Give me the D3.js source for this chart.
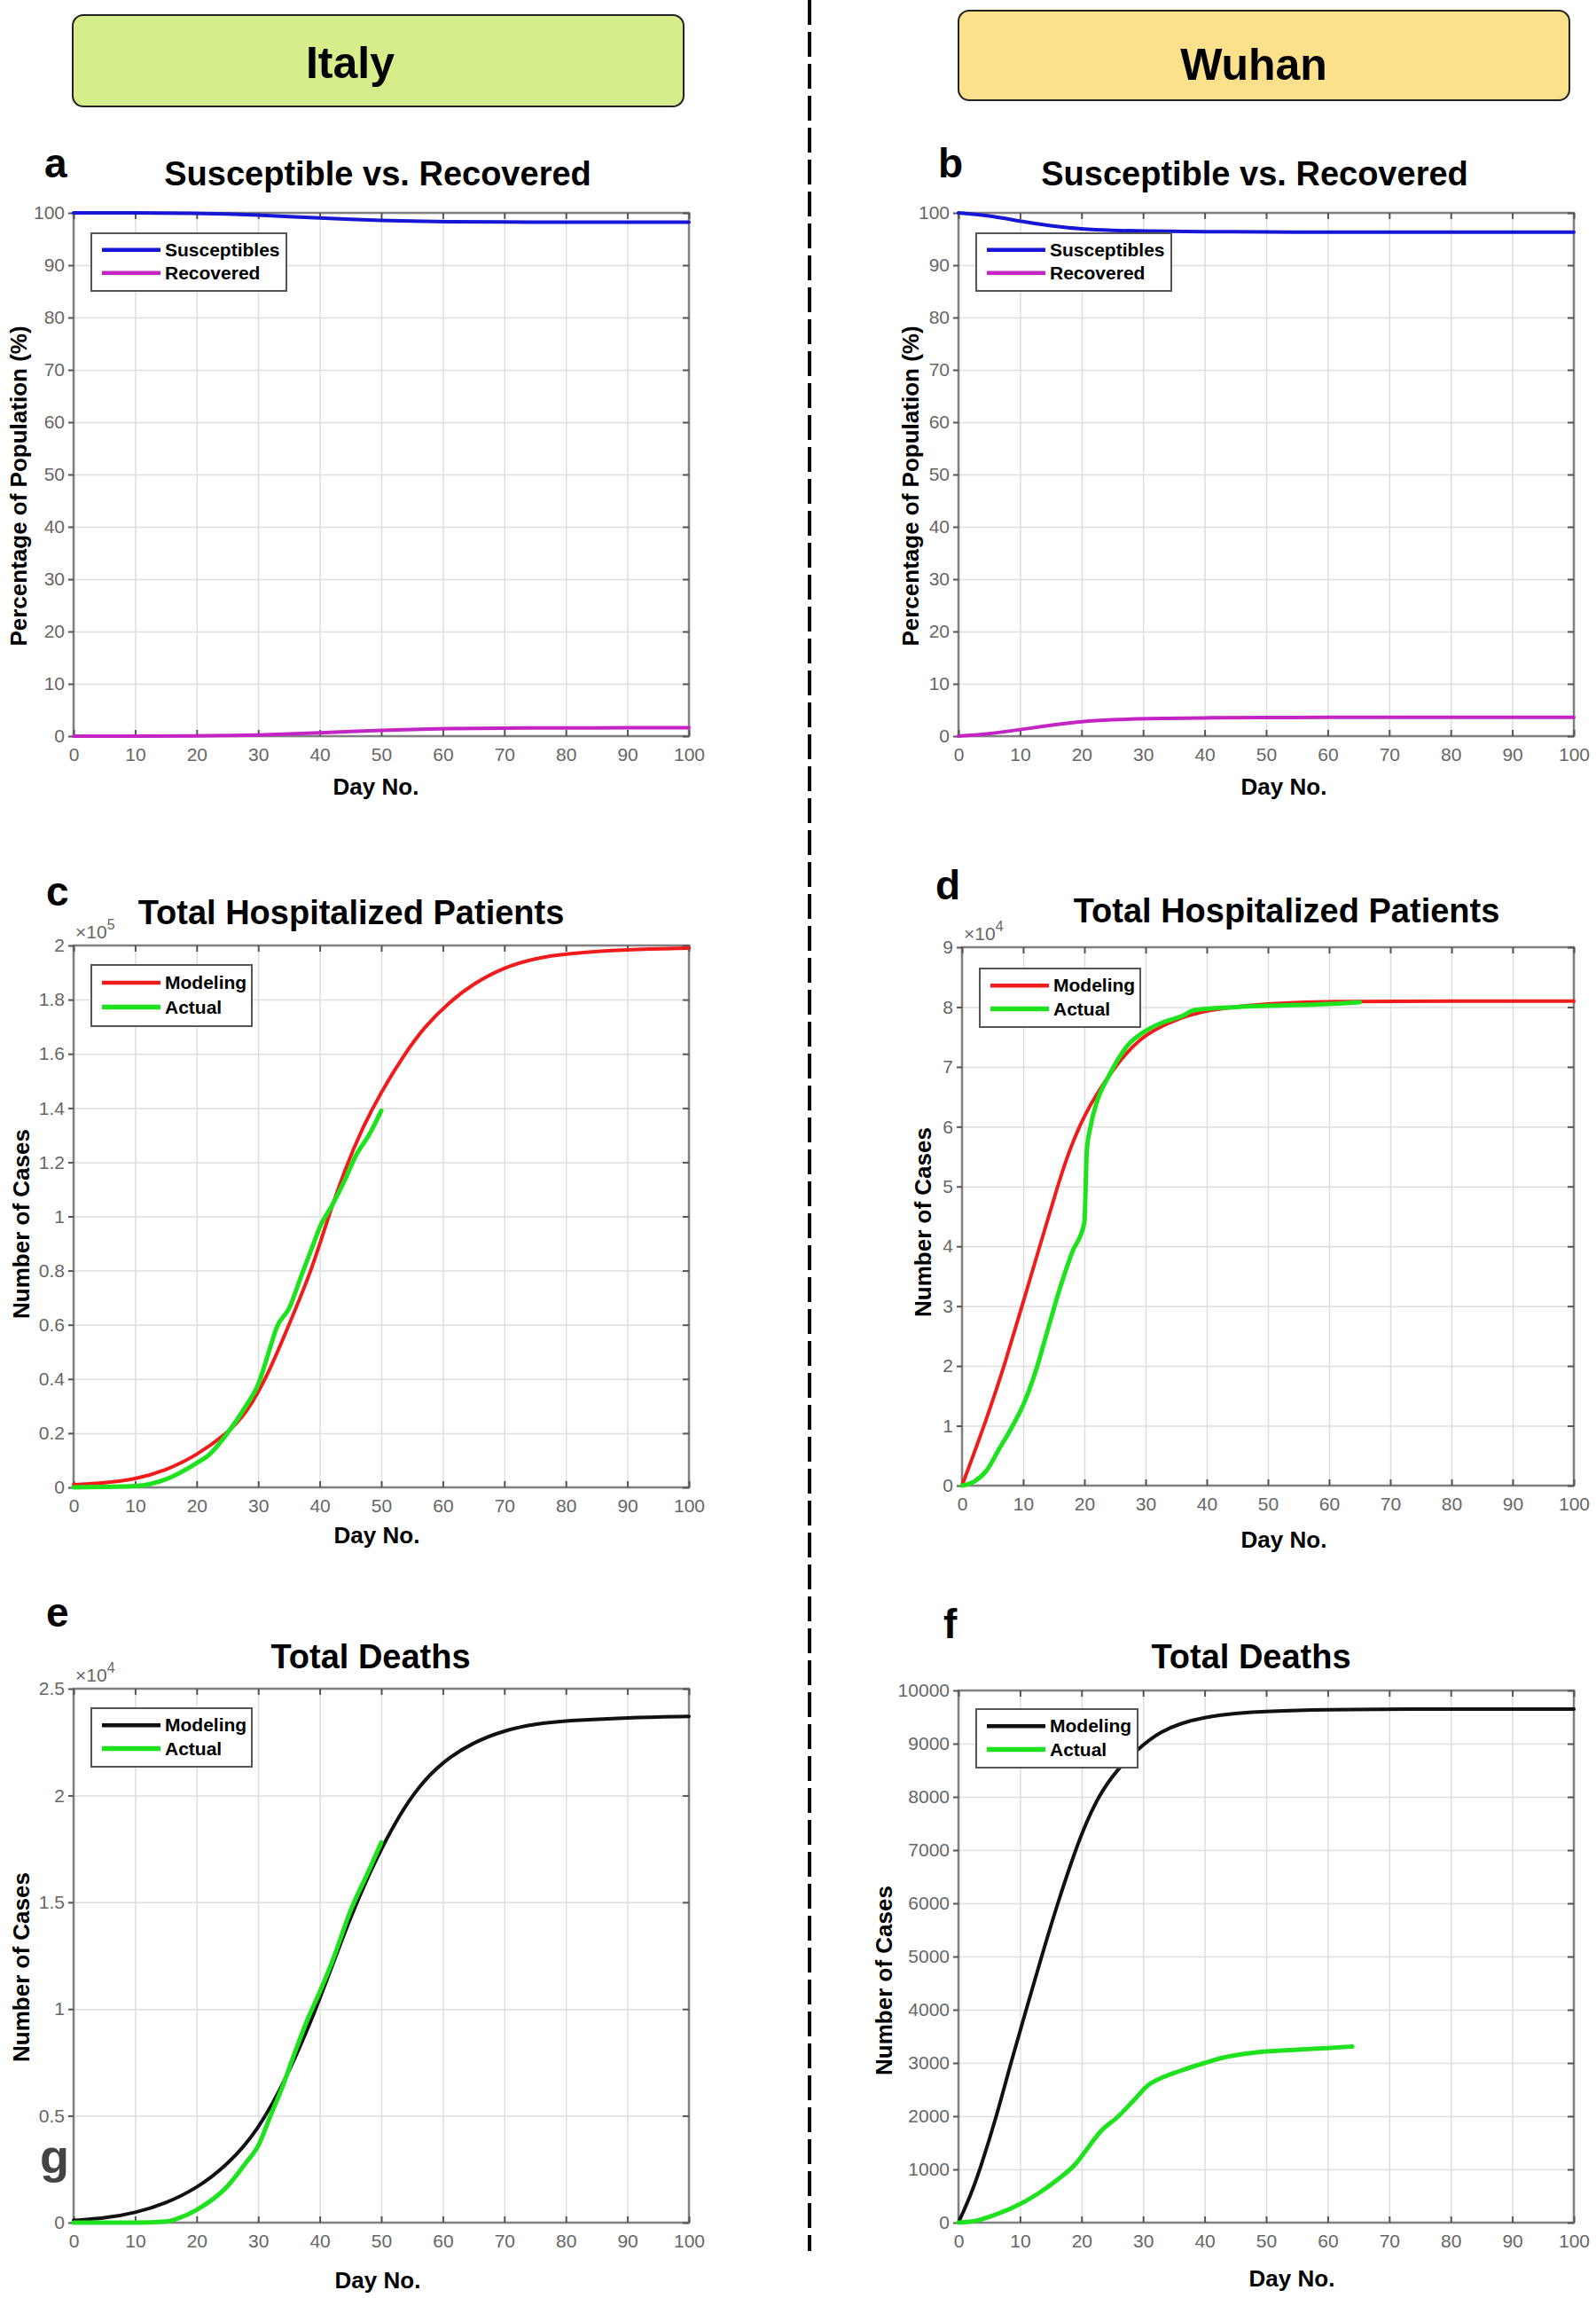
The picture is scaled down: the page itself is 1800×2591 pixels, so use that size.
<!DOCTYPE html>
<html>
<head>
<meta charset="utf-8">
<script src="https://cdn.jsdelivr.net/npm/d3@7"></script>
<style>
  body { margin: 0; background: #fff; }
</style>
</head>
<body>
<svg id="fig" width="1800" height="2591"></svg>
<script>
// x axis ticks shared by all panels
const dayTicks = [0, 10, 20, 30, 40, 50, 60, 70, 80, 90, 100];

// a: Italy, susceptible vs recovered (% of population)
const itSirDays = [0, 10, 20, 25, 30, 35, 40, 45, 50, 55, 60, 70, 80, 90, 100];
const itSus = [100, 100, 99.9, 99.8, 99.6, 99.3, 99.0, 98.75, 98.55, 98.4, 98.32, 98.25, 98.22, 98.2, 98.2];
const itRec = [0, 0, 0.05, 0.1, 0.2, 0.4, 0.65, 0.9, 1.12, 1.3, 1.42, 1.54, 1.58, 1.6, 1.6];

// b: Wuhan, susceptible vs recovered (% of population)
const whSirDays = [0, 5, 10, 15, 20, 25, 30, 40, 50, 60, 70, 80, 90, 100];
const whSus = [100, 99.5, 98.4, 97.5, 96.9, 96.65, 96.5, 96.4, 96.35, 96.3, 96.3, 96.3, 96.3, 96.3];
const whRec = [0, 0.4, 1.25, 2.1, 2.8, 3.15, 3.35, 3.5, 3.55, 3.6, 3.6, 3.6, 3.6, 3.6];

// c: Italy, total hospitalized (x 10^5)
const itHospModDays = [0, 5, 10, 15, 20, 25, 28, 31.5, 35, 38.5, 41, 44, 47, 50, 53.5, 57, 61, 65, 70, 75, 80, 90, 100];
const itHospMod = [0.01, 0.016, 0.03, 0.062, 0.118, 0.2, 0.27, 0.41, 0.6, 0.79, 0.97, 1.17, 1.33, 1.46, 1.59, 1.7, 1.79, 1.86, 1.92, 1.953, 1.97, 1.985, 1.99];
const itHospActDays = [0, 5, 10, 15, 20, 22, 25, 28, 30, 32, 33, 35, 37, 39, 40, 42, 44, 46, 48, 50];
const itHospAct = [0, 0.002, 0.005, 0.03, 0.09, 0.12, 0.2, 0.3, 0.38, 0.52, 0.59, 0.66, 0.78, 0.9, 0.96, 1.04, 1.13, 1.23, 1.3, 1.39];

// d: Wuhan, total hospitalized (x 10^4)
const whHospModDays = [0, 2, 3.6, 5, 6.9, 9.8, 12.7, 15.6, 17.5, 19.8, 22, 24.8, 27, 30, 35, 40, 48, 60, 80, 100];
const whHospMod = [0, 0.55, 1, 1.42, 2, 3, 4, 5, 5.6, 6.15, 6.55, 6.97, 7.25, 7.55, 7.8, 7.95, 8.05, 8.1, 8.1, 8.1];
const whHospActDays = [0, 2, 4, 6, 8, 10, 12, 14, 16, 18, 20, 20.4, 21, 22, 24, 27, 30, 33, 36, 38, 45, 50, 60, 65];
const whHospAct = [0, 0.07, 0.25, 0.6, 0.95, 1.35, 1.9, 2.6, 3.3, 3.9, 4.4, 5.6, 6.0, 6.4, 6.85, 7.35, 7.6, 7.75, 7.85, 7.95, 8.0, 8.02, 8.05, 8.08];

// e: Italy, total deaths (x 10^4)
const itDeathModDays = [0, 5, 10, 15, 20, 25, 30, 35, 39.4, 42, 45, 48, 50, 53, 56, 60, 65, 70, 75, 80, 90, 100];
const itDeathMod = [0.01, 0.02, 0.045, 0.09, 0.16, 0.27, 0.43, 0.7, 1.0, 1.2, 1.43, 1.63, 1.75, 1.91, 2.04, 2.16, 2.25, 2.305, 2.335, 2.35, 2.365, 2.37];
const itDeathActDays = [0, 10, 15, 17, 20, 25, 28, 30, 32, 34, 36, 38, 40, 42, 45, 48, 50];
const itDeathAct = [0, 0, 0.005, 0.02, 0.06, 0.17, 0.28, 0.36, 0.5, 0.64, 0.8, 0.95, 1.08, 1.22, 1.46, 1.65, 1.78];

// f: Wuhan, total deaths
const whDeathModDays = [0, 2, 3.5, 6.2, 8.5, 11, 13.5, 16.1, 19, 20.7, 22.7, 25.6, 30, 33, 36, 40, 45, 50, 60, 70, 100];
const whDeathMod = [0, 520, 1000, 2000, 3000, 4000, 5000, 6000, 7000, 7500, 8000, 8500, 8990, 9230, 9380, 9500, 9570, 9610, 9640, 9650, 9650];
const whDeathActDays = [0, 3, 6, 9, 13, 16, 19, 21, 23, 26, 28.5, 31, 33, 36, 40, 43, 47, 55, 60, 64];
const whDeathAct = [0, 40, 150, 290, 550, 800, 1100, 1400, 1700, 2000, 2300, 2600, 2720, 2850, 3000, 3100, 3180, 3250, 3280, 3310];

const FONT = '"Liberation Sans", Arial, Helvetica, sans-serif';
const BLUE = '#1616d6';
const MAGENTA = '#c424c4';
const RED = '#f01c1c';
const GREEN = '#1fe21f';
const BLACK = '#111';

const svg = d3.select('#fig');
svg.append('rect').attr('width', 1800).attr('height', 2591).attr('fill', '#fff');

// country headers
svg.append('rect').attr('x', 82).attr('y', 17).attr('width', 689).attr('height', 103)
  .attr('rx', 12).attr('fill', '#d5ed8b').attr('stroke', '#222').attr('stroke-width', 2);
svg.append('text').attr('x', 395).attr('y', 88).attr('text-anchor', 'middle')
  .style('font', `bold 50px ${FONT}`).text('Italy');
svg.append('rect').attr('x', 1081).attr('y', 12).attr('width', 689).attr('height', 101)
  .attr('rx', 12).attr('fill', '#fde08b').attr('stroke', '#222').attr('stroke-width', 2);
svg.append('text').attr('x', 1414).attr('y', 90).attr('text-anchor', 'middle')
  .style('font', `bold 50px ${FONT}`).text('Wuhan');

// divider
svg.append('line').attr('x1', 913).attr('x2', 913).attr('y1', 0).attr('y2', 2538)
  .attr('stroke', '#000').attr('stroke-width', 4).attr('stroke-dasharray', '28,8');

function fmtDec (d) { return String(+d.toFixed(1)); }

function drawPanel (p) {
  const x = d3.scaleLinear().domain([0, 100]).range([p.left, p.right]);
  const y = d3.scaleLinear().domain([0, p.yMax]).range([p.bottom, p.top]);
  const w = p.right - p.left;
  const h = p.bottom - p.top;
  const g = svg.append('g');

  // grid
  g.append('g').attr('transform', `translate(0,${p.bottom})`)
    .call(d3.axisBottom(x).tickValues(dayTicks).tickSize(-h).tickFormat(''))
    .call(s => s.select('.domain').remove())
    .selectAll('line').attr('stroke', '#dedede').attr('stroke-width', 1.5);
  g.append('g').attr('transform', `translate(${p.left},0)`)
    .call(d3.axisLeft(y).tickValues(p.yTicks).tickSize(-w).tickFormat(''))
    .call(s => s.select('.domain').remove())
    .selectAll('line').attr('stroke', '#dedede').attr('stroke-width', 1.5);

  // box
  g.append('rect').attr('x', p.left).attr('y', p.top).attr('width', w).attr('height', h)
    .attr('fill', 'none').attr('stroke', '#808080').attr('stroke-width', 2.5);

  // axes
  const xa = g.append('g').attr('transform', `translate(0,${p.bottom})`)
    .call(d3.axisBottom(x).tickValues(dayTicks).tickSizeInner(-7).tickSizeOuter(0).tickPadding(13));
  const ya = g.append('g').attr('transform', `translate(${p.left},0)`)
    .call(d3.axisLeft(y).tickValues(p.yTicks).tickSizeInner(6).tickSizeOuter(0).tickPadding(4).tickFormat(p.fmt));
  const xt = g.append('g').attr('transform', `translate(0,${p.top})`)
    .call(d3.axisTop(x).tickValues(dayTicks).tickSizeInner(-7).tickSizeOuter(0).tickFormat(''));
  const yr = g.append('g').attr('transform', `translate(${p.right},0)`)
    .call(d3.axisRight(y).tickValues(p.yTicks).tickSizeInner(-7).tickSizeOuter(0).tickFormat(''));
  [xa, ya, xt, yr].forEach(function (a) {
    a.select('.domain').remove();
    a.selectAll('line').attr('stroke', '#555').attr('stroke-width', 2);
    a.selectAll('text').attr('fill', '#666').style('font', `21px ${FONT}`);
  });

  // multiplier
  if (p.exp) {
    const t = g.append('text').attr('x', p.left + 2).attr('y', p.top - 8)
      .attr('fill', '#666').style('font', `21px ${FONT}`);
    t.append('tspan').text('\u00d710');
    t.append('tspan').attr('dy', -10).style('font-size', '16px').text(p.exp);
  }

  // series: model curves smoothed, actual data monotone
  p.series.forEach(function (s) {
    const line = d3.line().x(d => x(d[0])).y(d => y(d[1]))
      .curve(s.smooth ? d3.curveBasis : d3.curveMonotoneX);
    g.append('path').datum(d3.zip(s.days, s.vals))
      .attr('fill', 'none').attr('stroke', s.color).attr('stroke-width', s.width)
      .attr('stroke-linejoin', 'round').attr('stroke-linecap', 'round')
      .attr('d', line);
  });

  // legend
  const lg = p.legend;
  g.append('rect').attr('x', lg.x).attr('y', lg.y).attr('width', lg.w).attr('height', lg.h)
    .attr('fill', '#fff').attr('stroke', '#555').attr('stroke-width', 2);
  p.series.forEach(function (s, i) {
    const ry = lg.y + lg.h * (i === 0 ? 0.29 : 0.69);
    g.append('line').attr('x1', lg.x + 12).attr('x2', lg.x + 78).attr('y1', ry).attr('y2', ry)
      .attr('stroke', s.color).attr('stroke-width', s.width + 0.5);
    g.append('text').attr('x', lg.x + 83).attr('y', ry).attr('dy', '0.35em')
      .style('font', `bold 21px ${FONT}`).text(s.name);
  });

  // texts
  g.append('text').attr('x', p.titleX).attr('y', p.titleY).attr('text-anchor', 'middle')
    .style('font', `bold 38px ${FONT}`).text(p.title);
  g.append('text').attr('x', p.letterX).attr('y', p.letterY)
    .style('font', `bold 46px ${FONT}`).text(p.letter);
  g.append('text').attr('transform', `translate(${p.yLabelX},${p.yLabelY}) rotate(-90)`)
    .attr('text-anchor', 'middle').style('font', `bold 26px ${FONT}`).text(p.yLabel);
  g.append('text').attr('x', p.xLabelX).attr('y', p.xLabelY).attr('text-anchor', 'middle')
    .style('font', `bold 26px ${FONT}`).text('Day No.');
}

const pctTicks = d3.range(0, 101, 10);

drawPanel({
  left: 83, right: 777, top: 240, bottom: 830, yMax: 100, yTicks: pctTicks, fmt: d => d,
  title: 'Susceptible vs. Recovered', titleX: 426, titleY: 209, letter: 'a', letterX: 50, letterY: 200,
  yLabel: 'Percentage of Population (%)', yLabelX: 30, yLabelY: 548, xLabelX: 424, xLabelY: 896,
  legend: { x: 103, y: 263, w: 220, h: 65 },
  series: [
    { name: 'Susceptibles', days: itSirDays, vals: itSus, color: BLUE, width: 4, smooth: true },
    { name: 'Recovered', days: itSirDays, vals: itRec, color: MAGENTA, width: 4, smooth: true }
  ]
});

drawPanel({
  left: 1081, right: 1775, top: 240, bottom: 830, yMax: 100, yTicks: pctTicks, fmt: d => d,
  title: 'Susceptible vs. Recovered', titleX: 1415, titleY: 209, letter: 'b', letterX: 1058, letterY: 200,
  yLabel: 'Percentage of Population (%)', yLabelX: 1036, yLabelY: 548, xLabelX: 1448, xLabelY: 896,
  legend: { x: 1101, y: 263, w: 220, h: 65 },
  series: [
    { name: 'Susceptibles', days: whSirDays, vals: whSus, color: BLUE, width: 4, smooth: true },
    { name: 'Recovered', days: whSirDays, vals: whRec, color: MAGENTA, width: 4, smooth: true }
  ]
});

drawPanel({
  left: 83, right: 777, top: 1066, bottom: 1677, yMax: 2, yTicks: d3.range(0, 2.01, 0.2), fmt: fmtDec,
  exp: '5',
  title: 'Total Hospitalized Patients', titleX: 396, titleY: 1042, letter: 'c', letterX: 52, letterY: 1021,
  yLabel: 'Number of Cases', yLabelX: 33, yLabelY: 1380, xLabelX: 425, xLabelY: 1740,
  legend: { x: 103, y: 1088, w: 181, h: 69 },
  series: [
    { name: 'Modeling', days: itHospModDays, vals: itHospMod, color: RED, width: 4, smooth: true },
    { name: 'Actual', days: itHospActDays, vals: itHospAct, color: GREEN, width: 5 }
  ]
});

drawPanel({
  left: 1085, right: 1775, top: 1068, bottom: 1675, yMax: 9, yTicks: d3.range(0, 10, 1), fmt: d => d,
  exp: '4',
  title: 'Total Hospitalized Patients', titleX: 1451, titleY: 1040, letter: 'd', letterX: 1055, letterY: 1014,
  yLabel: 'Number of Cases', yLabelX: 1050, yLabelY: 1378, xLabelX: 1448, xLabelY: 1745,
  legend: { x: 1105, y: 1092, w: 181, h: 66 },
  series: [
    { name: 'Modeling', days: whHospModDays, vals: whHospMod, color: RED, width: 4, smooth: true },
    { name: 'Actual', days: whHospActDays, vals: whHospAct, color: GREEN, width: 5 }
  ]
});

drawPanel({
  left: 83, right: 777, top: 1904, bottom: 2506, yMax: 2.5, yTicks: d3.range(0, 2.51, 0.5), fmt: fmtDec,
  exp: '4',
  title: 'Total Deaths', titleX: 418, titleY: 1881, letter: 'e', letterX: 52, letterY: 1834,
  yLabel: 'Number of Cases', yLabelX: 33, yLabelY: 2218, xLabelX: 426, xLabelY: 2580,
  legend: { x: 103, y: 1926, w: 181, h: 66 },
  series: [
    { name: 'Modeling', days: itDeathModDays, vals: itDeathMod, color: BLACK, width: 4, smooth: true },
    { name: 'Actual', days: itDeathActDays, vals: itDeathAct, color: GREEN, width: 5 }
  ]
});

drawPanel({
  left: 1081, right: 1775, top: 1906, bottom: 2506, yMax: 10000, yTicks: d3.range(0, 10001, 1000), fmt: d => d,
  title: 'Total Deaths', titleX: 1411, titleY: 1881, letter: 'f', letterX: 1064, letterY: 1847,
  yLabel: 'Number of Cases', yLabelX: 1006, yLabelY: 2233, xLabelX: 1457, xLabelY: 2578,
  legend: { x: 1101, y: 1927, w: 182, h: 66 },
  series: [
    { name: 'Modeling', days: whDeathModDays, vals: whDeathMod, color: BLACK, width: 4, smooth: true },
    { name: 'Actual', days: whDeathActDays, vals: whDeathAct, color: GREEN, width: 5 }
  ]
});

// stray panel letter left of panel e
svg.append('text').attr('x', 45).attr('y', 2450).attr('fill', '#444')
  .style('font', `bold 54px ${FONT}`).text('g');
</script>
</body>
</html>
